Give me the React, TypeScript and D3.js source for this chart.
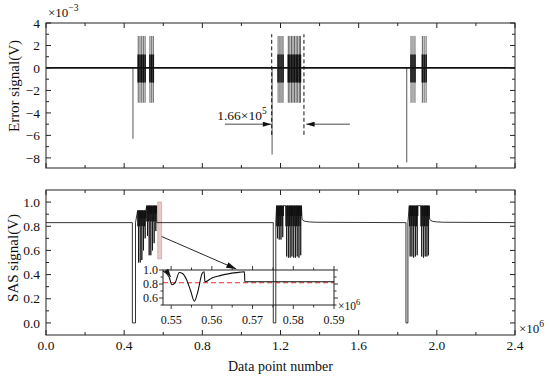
import React from "react";
import * as d3 from "d3";

// ---- data ----
const xTicks = [0, 0.4, 0.8, 1.2, 1.6, 2.0, 2.4];
const xMinor = [0.2, 0.6, 1.0, 1.4, 1.8, 2.2];
const errTicks = [4, 2, 0, -2, -4, -6, -8];
const errMinor = [3, 1, -1, -3, -5, -7];
const sasTicks = [0, 0.2, 0.4, 0.6, 0.8, 1.0];
const sasMinor = [0.1, 0.3, 0.5, 0.7, 0.9];

// error signal: negative spikes and burst lines
const errSpikeX = [0.445, 1.157, 1.846];
const errSpikeMin = [-6.3, -7.7, -8.4];
const errBurstA = [0.472, 0.481, 0.49, 0.498, 0.507, 0.532, 0.541, 0.549];
const errBurstGrey = [1.187, 1.191, 1.195, 1.199, 1.203, 1.207, 1.211, 1.214];
const errBurstB = [1.24, 1.248, 1.256, 1.264, 1.272, 1.28, 1.288, 1.296, 1.302];
const errBurstC = [1.868, 1.878, 1.888, 1.926, 1.935, 1.945];
const errOuter = [-3.1, 2.85];
const errInner = [-1.3, 1.2];
const markX = [1.155, 1.32];
const markSpan = [-5.95, 3.0];

// SAS signal
const SAS_BASE = 0.83;
const DIP_LEVEL = 0.0;
const SWEEP_W = 0.009;
const dipA = [0.442, 0.458];
const dipB = [1.163, 1.176];
const dipC = [1.842, 1.852];
const sweepA1X = [0.469, 0.4775, 0.486, 0.4945, 0.503];
const sweepA1Low = [0.5, 0.5, 0.52, 0.6, 0.7];
const sweepA2X = [0.515, 0.5235, 0.532, 0.5405, 0.549, 0.5575];
const sweepA2Low = [0.72, 0.56, 0.56, 0.6, 0.66, 0.76];
const sweepB1X = [1.18, 1.189, 1.198, 1.207];
const sweepB1Low = [0.7, 0.69, 0.69, 0.71];
const sweepB2X = [1.227, 1.236, 1.245, 1.254, 1.263, 1.272, 1.281, 1.29, 1.299];
const sweepB2Low = [0.55, 0.54, 0.54, 0.55, 0.54, 0.54, 0.55, 0.54, 0.56];
const sweepC1X = [1.859, 1.868, 1.877, 1.886, 1.895];
const sweepC1Low = [0.55, 0.55, 0.54, 0.55, 0.56];
const sweepC2X = [1.918, 1.927, 1.936, 1.945, 1.953];
const sweepC2Low = [0.55, 0.54, 0.55, 0.55, 0.56];
const bandA1 = 0.8;
const bandA2 = 0.84;
const bandB = 0.8;
const bandC = 0.8;
const peakLow = 0.93;
const peakHigh = 0.97;
const tailBX = [1.31, 1.315, 1.327, 1.347, 1.38];
const tailCX = [1.963, 1.968, 1.98, 2.0, 2.033];
const tailY = [0.86, 0.848, 0.84, 0.836, 0.833];

// highlighted window + inset
const zoomWinX = [0.572, 0.592];
const zoomWinY = [0.53, 1.0];
const insetXTicks = [0.55, 0.56, 0.57, 0.58, 0.59];
const insetXMinor = [0.555, 0.565, 0.575, 0.585];
const insetYTicks = [0.6, 0.8, 1.0];
const insetYMinor = [0.5, 0.7, 0.9];
const insetX = [0.548, 0.5495, 0.5502, 0.551, 0.552, 0.5528, 0.5538, 0.5548, 0.5557, 0.5566, 0.5576, 0.5581, 0.5583, 0.56, 0.562, 0.564, 0.566, 0.568, 0.5681, 0.59];
const insetY = [0.985, 0.9, 0.79, 0.82, 0.965, 0.95, 0.86, 0.7, 0.555, 0.7, 0.95, 0.975, 0.83, 0.885, 0.92, 0.945, 0.962, 0.974, 0.832, 0.832];
const insetRef = 0.818;

// ---- layout ----
const W = 550;
const H = 380;
const L = 46;
const R = 515;
const TOP = [23, 168];
const BOT = [190, 335];
const INS = { x0: 163, x1: 334, y0: 270, y1: 305 };
const FONT = "'Liberation Serif', 'Times New Roman', serif";
const INK = "#111";

type Pt = [number, number];

// one sweep: a small wiggle near the top (gives the dense dark block),
// then a narrow spike down to the low value
function sweeps(xs: number[], lows: number[], band: number, peak: number): Pt[] {
  const pts: Pt[] = [];
  xs.forEach((v, i) => {
    const mid = (peak + band) / 2;
    pts.push(
      [v, peak],
      [v + SWEEP_W * 0.12, band],
      [v + SWEEP_W * 0.24, peak],
      [v + SWEEP_W * 0.36, mid],
      [v + SWEEP_W * 0.45, band],
      [v + SWEEP_W * 0.5, lows[i]],
      [v + SWEEP_W * 0.55, band],
      [v + SWEEP_W * 0.7, peak],
      [v + SWEEP_W * 0.82, mid],
      [v + SWEEP_W * 0.92, peak]
    );
  });
  return pts;
}

function dip(d: number[]): Pt[] {
  return [[d[0], SAS_BASE], [d[0], DIP_LEVEL], [d[1], DIP_LEVEL], [d[1], SAS_BASE]];
}

function buildSas(): Pt[] {
  const last = (xs: number[]) => xs[xs.length - 1] + SWEEP_W;
  return [
    [0, SAS_BASE] as Pt,
    ...dip(dipA),
    ...sweeps(sweepA1X, sweepA1Low, bandA1, peakLow),
    ...sweeps(sweepA2X, sweepA2Low, bandA2, peakHigh),
    [last(sweepA2X), SAS_BASE] as Pt,
    ...dip(dipB),
    ...sweeps(sweepB1X, sweepB1Low, bandB, peakHigh),
    ...sweeps(sweepB2X, sweepB2Low, bandB, peakHigh),
    ...tailBX.map((v, i) => [v, tailY[i]] as Pt),
    ...dip(dipC),
    ...sweeps(sweepC1X, sweepC1Low, bandC, peakHigh),
    ...sweeps(sweepC2X, sweepC2Low, bandC, peakHigh),
    ...tailCX.map((v, i) => [v, tailY[i]] as Pt),
    [2.4, SAS_BASE] as Pt,
  ];
}

export default function App() {
  const x = d3.scaleLinear().domain([0, 2.4]).range([L, R]);
  const yErr = d3.scaleLinear().domain([-8.9, 4]).range([TOP[1], TOP[0]]);
  const ySas = d3.scaleLinear().domain([-0.1, 1.1]).range([BOT[1], BOT[0]]);
  const xi = d3.scaleLinear().domain([0.548, 0.59]).range([INS.x0, INS.x1]);
  const yi = d3.scaleLinear().domain([0.5, 1.0]).range([INS.y1, INS.y0]);

  const sasLine = d3
    .line<Pt>()
    .x((d) => x(d[0]))
    .y((d) => ySas(d[1]));
  const insetLine = d3
    .line<number>()
    .x((d) => xi(d))
    .y((_, i) => yi(insetY[i]))
    .curve(d3.curveMonotoneX);

  // inward ticks on all four sides of a main panel
  const panelTicks = (
    y0: number,
    y1: number,
    yMaj: number[],
    yMin: number[],
    ys: d3.ScaleLinear<number, number>,
    key: string
  ) => {
    const out: React.ReactElement[] = [];
    xTicks.forEach((t, i) => {
      out.push(<line key={`${key}xb${i}`} x1={x(t)} x2={x(t)} y1={y1} y2={y1 - 5} />);
      out.push(<line key={`${key}xt${i}`} x1={x(t)} x2={x(t)} y1={y0} y2={y0 + 5} />);
    });
    xMinor.forEach((t, i) => {
      out.push(<line key={`${key}mb${i}`} x1={x(t)} x2={x(t)} y1={y1} y2={y1 - 3} />);
      out.push(<line key={`${key}mt${i}`} x1={x(t)} x2={x(t)} y1={y0} y2={y0 + 3} />);
    });
    yMaj.forEach((t, i) => {
      out.push(<line key={`${key}yl${i}`} x1={L} x2={L + 5} y1={ys(t)} y2={ys(t)} />);
      out.push(<line key={`${key}yr${i}`} x1={R} x2={R - 5} y1={ys(t)} y2={ys(t)} />);
    });
    yMin.forEach((t, i) => {
      out.push(<line key={`${key}nl${i}`} x1={L} x2={L + 3} y1={ys(t)} y2={ys(t)} />);
      out.push(<line key={`${key}nr${i}`} x1={R} x2={R - 3} y1={ys(t)} y2={ys(t)} />);
    });
    return out;
  };

  const fmtErr = (v: number) => (v < 0 ? `\u2212${-v}` : `${v}`);

  return (
    <svg
      width={W}
      height={H}
      style={{ position: "absolute", left: 0, top: 0, background: "#fff" }}
      fontFamily={FONT}
    >
      <defs>
        <marker id="head" viewBox="0 0 10 6" refX="10" refY="3" markerWidth="9" markerHeight="5" orient="auto" markerUnits="userSpaceOnUse">
          <path d="M0,0 L10,3 L0,6 z" fill={INK} />
        </marker>
        <marker id="head2" viewBox="0 0 10 6" refX="10" refY="3" markerWidth="10" markerHeight="6" orient="auto" markerUnits="userSpaceOnUse">
          <path d="M0,0 L10,3 L0,6 z" fill={INK} />
        </marker>
      </defs>

      {/* ---------- top panel: error signal ---------- */}
      <g>
        {errSpikeX.map((v, i) => (
          <line key={`sp${i}`} x1={x(v)} x2={x(v)} y1={yErr(0)} y2={yErr(errSpikeMin[i])} stroke="#444" strokeWidth={0.9} />
        ))}
        {[...errBurstA, ...errBurstB, ...errBurstC].map((v, i) => (
          <g key={`eb${i}`}>
            <line x1={x(v)} x2={x(v)} y1={yErr(errOuter[0])} y2={yErr(errOuter[1])} stroke="#333" strokeWidth={0.8} />
            <line x1={x(v)} x2={x(v)} y1={yErr(errInner[0])} y2={yErr(errInner[1])} stroke="#111" strokeWidth={1.6} />
          </g>
        ))}
        {errBurstGrey.map((v, i) => (
          <g key={`eg${i}`}>
            <line x1={x(v)} x2={x(v)} y1={yErr(errOuter[0])} y2={yErr(errOuter[1])} stroke="#999" strokeWidth={1.1} />
            <line x1={x(v)} x2={x(v)} y1={yErr(errInner[0])} y2={yErr(errInner[1])} stroke="#222" strokeWidth={1.4} />
          </g>
        ))}
        <line x1={x(0)} x2={x(2.4)} y1={yErr(0)} y2={yErr(0)} stroke={INK} strokeWidth={1.8} />
        {markX.map((v, i) => (
          <line key={`mk${i}`} x1={x(v)} x2={x(v)} y1={yErr(markSpan[0])} y2={yErr(markSpan[1])} stroke={INK} strokeWidth={1} strokeDasharray="4,2.5" />
        ))}
        <line x1={x(0.916)} x2={x(1.152)} y1={yErr(-5)} y2={yErr(-5)} stroke="#333" strokeWidth={0.9} markerEnd="url(#head)" />
        <line x1={x(1.555)} x2={x(1.332)} y1={yErr(-5)} y2={yErr(-5)} stroke="#333" strokeWidth={0.9} markerEnd="url(#head)" />
        <text x={x(0.876)} y={yErr(-4.65)} fontSize={13.5} fill={INK}>
          1.66×10
          <tspan dy={-6} fontSize={9.5}>5</tspan>
        </text>

        <rect x={L} y={TOP[0]} width={R - L} height={TOP[1] - TOP[0]} fill="none" stroke="#222" strokeWidth={1} />
        <g stroke="#222" strokeWidth={1}>{panelTicks(TOP[0], TOP[1], errTicks, errMinor, yErr, "t")}</g>
        {errTicks.map((t) => (
          <text key={`el${t}`} x={L - 6} y={yErr(t)} dy="0.35em" textAnchor="end" fontSize={13.5} fill={INK}>
            {fmtErr(t)}
          </text>
        ))}
        <text x={L + 2} y={17} fontSize={13} fill={INK}>
          ×10
          <tspan dy={-6} fontSize={9.5}>−3</tspan>
        </text>
        <text transform={`translate(19,86) rotate(-90)`} textAnchor="middle" fontSize={15} fill={INK}>
          Error signal(V)
        </text>
      </g>

      {/* ---------- bottom panel: SAS signal ---------- */}
      <g>
        <rect
          x={x(zoomWinX[0])}
          y={ySas(zoomWinY[1])}
          width={x(zoomWinX[1]) - x(zoomWinX[0])}
          height={ySas(zoomWinY[0]) - ySas(zoomWinY[1])}
          fill="#e9c9c9"
          stroke="#d9a7a7"
          strokeWidth={0.8}
        />
        <path d={sasLine(buildSas()) ?? ""} fill="none" stroke={INK} strokeWidth={0.85} strokeLinejoin="round" />
        <line
          x1={x(zoomWinX[1])}
          y1={ySas(0.715)}
          x2={xi(0.566)}
          y2={yi(1.0) - 1}
          stroke={INK}
          strokeWidth={0.9}
          markerEnd="url(#head2)"
        />

        <rect x={L} y={BOT[0]} width={R - L} height={BOT[1] - BOT[0]} fill="none" stroke="#222" strokeWidth={1} />
        <g stroke="#222" strokeWidth={1}>{panelTicks(BOT[0], BOT[1], sasTicks, sasMinor, ySas, "b")}</g>
        {sasTicks.map((t) => (
          <text key={`sl${t}`} x={L - 6} y={ySas(t)} dy="0.35em" textAnchor="end" fontSize={13.5} fill={INK}>
            {t.toFixed(1)}
          </text>
        ))}
        {xTicks.map((t) => (
          <text key={`xl${t}`} x={x(t)} y={350} textAnchor="middle" fontSize={13.5} fill={INK}>
            {t.toFixed(1)}
          </text>
        ))}
        <text x={R + 4} y={333} fontSize={13} fill={INK}>
          ×10
          <tspan dy={-6} fontSize={9.5}>6</tspan>
        </text>
        <text x={(L + R) / 2} y={371} textAnchor="middle" fontSize={14} fill={INK}>
          Data point number
        </text>
        <text transform={`translate(18,258) rotate(-90)`} textAnchor="middle" fontSize={15} fill={INK}>
          SAS signal(V)
        </text>
      </g>

      {/* ---------- inset ---------- */}
      <g>
        <line x1={xi(0.548)} x2={xi(0.59)} y1={yi(insetRef)} y2={yi(insetRef)} stroke="#e8302c" strokeWidth={1.2} strokeDasharray="5,3" />
        <path d={insetLine(insetX) ?? ""} fill="none" stroke={INK} strokeWidth={1.1} />
        <line x1={xi(0.5488)} y1={yi(1.0)} x2={xi(0.5499)} y2={yi(0.9)} stroke={INK} strokeWidth={0.8} markerEnd="url(#head)" />
        <rect x={INS.x0} y={INS.y0} width={INS.x1 - INS.x0} height={INS.y1 - INS.y0} fill="none" stroke="#222" strokeWidth={1} />
        <g stroke="#222" strokeWidth={0.9}>
          {insetXTicks.map((t, i) => (
            <g key={`ixt${i}`}>
              <line x1={xi(t)} x2={xi(t)} y1={INS.y1} y2={INS.y1 + 4} />
              <line x1={xi(t)} x2={xi(t)} y1={INS.y0} y2={INS.y0 - 4} />
            </g>
          ))}
          {insetXMinor.map((t, i) => (
            <g key={`ixm${i}`}>
              <line x1={xi(t)} x2={xi(t)} y1={INS.y1} y2={INS.y1 + 2.5} />
              <line x1={xi(t)} x2={xi(t)} y1={INS.y0} y2={INS.y0 - 2.5} />
            </g>
          ))}
          {insetYTicks.map((t, i) => (
            <g key={`iyt${i}`}>
              <line x1={INS.x0} x2={INS.x0 - 4} y1={yi(t)} y2={yi(t)} />
              <line x1={INS.x1} x2={INS.x1 + 4} y1={yi(t)} y2={yi(t)} />
            </g>
          ))}
          {insetYMinor.map((t, i) => (
            <g key={`iym${i}`}>
              <line x1={INS.x0} x2={INS.x0 - 2.5} y1={yi(t)} y2={yi(t)} />
              <line x1={INS.x1} x2={INS.x1 + 2.5} y1={yi(t)} y2={yi(t)} />
            </g>
          ))}
        </g>
        {insetYTicks.map((t) => (
          <text key={`iyl${t}`} x={INS.x0 - 5} y={yi(t)} dy="0.35em" textAnchor="end" fontSize={12} fill={INK}>
            {t.toFixed(1)}
          </text>
        ))}
        {insetXTicks.map((t) => (
          <text key={`ixl${t}`} x={xi(t)} y={324} textAnchor="middle" fontSize={12} fill={INK}>
            {t.toFixed(2)}
          </text>
        ))}
        <text x={INS.x1 + 4} y={310} fontSize={11.5} fill={INK}>
          ×10
          <tspan dy={-5} fontSize={8.5}>6</tspan>
        </text>
      </g>
    </svg>
  );
}
